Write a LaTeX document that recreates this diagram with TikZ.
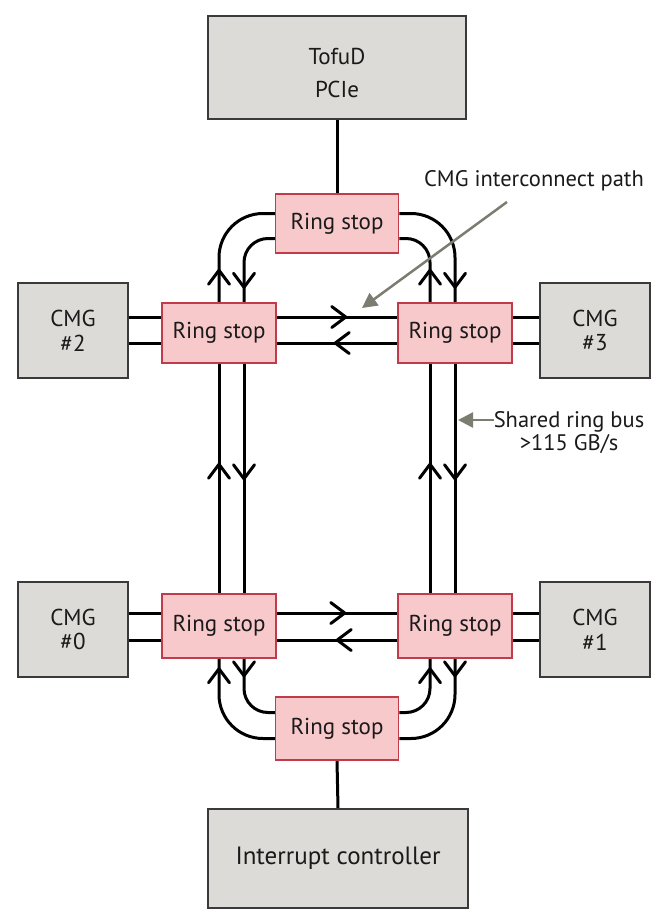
\documentclass[tikz,border=0pt]{standalone}
\usepackage{fontspec}
\setmainfont{PT Sans}
\usetikzlibrary{arrows.meta,calc,backgrounds}
\definecolor{boxgray}{HTML}{DCDBD7}
\definecolor{boxedge}{HTML}{3A3A3A}
\definecolor{rsfill}{HTML}{F8C9CB}
\definecolor{rsedge}{HTML}{C23B4A}
\definecolor{anngray}{HTML}{7B7D70}
\definecolor{txt}{HTML}{1A1A1A}
\begin{document}
\begin{tikzpicture}[x=1pt,y=-1pt,
  graybox/.style={draw=boxedge,line width=2pt,fill=boxgray,align=center,text=txt,
    font=\fontsize{23}{32}\selectfont,inner sep=0pt},
  ringstop/.style={draw=rsedge,line width=1.5pt,fill=rsfill,text=txt,
    font=\fontsize{23}{26}\selectfont,inner sep=0pt,minimum width=114pt,minimum height=60pt},
  bus/.style={line width=3pt,black},
  chev/.style={line width=3pt,black,line cap=round,line join=round},
  chevron/.pic={\draw[chev] (-14pt,-10.5pt) -- (0pt,0pt) -- (-14pt,10.5pt);},
  anntext/.style={text=txt,font=\fontsize{22.5}{23}\selectfont,inner sep=0pt,align=center},
  annarrow/.style={draw=anngray,line width=2.5pt,-{Triangle[length=15pt,width=15pt]},anngray}
]
\useasboundingbox (0,0) rectangle (672,921);

% boxes
\node[graybox,minimum width=258pt,minimum height=103pt,
  label={[name=tofutext,align=center,text=txt,inner sep=0pt,font=\fontsize{23}{33}\selectfont,yshift=-5pt]center:TofuD\\PCIe}] (tofu) at (337,67.5) {};
\node[graybox,minimum width=260pt,minimum height=99pt,font=\fontsize{25}{30}\selectfont] (intr) at (338,858.5) {Interrupt controller};
\node[graybox,minimum width=110pt,minimum height=95pt] (cmg2) at (73,330.5) {\raisebox{-3pt}{\shortstack{CMG\\[5pt]\#2}}};
\node[graybox,minimum width=110pt,minimum height=95pt] (cmg3) at (595,330.5) {\raisebox{-3pt}{\shortstack{CMG\\[5pt]\#3}}};
\node[graybox,minimum width=110pt,minimum height=95pt] (cmg0) at (73,629.5) {\raisebox{-3pt}{\shortstack{CMG\\[5pt]\#0}}};
\node[graybox,minimum width=110pt,minimum height=95pt] (cmg1) at (595,629.5) {\raisebox{-3pt}{\shortstack{CMG\\[5pt]\#1}}};

% ring stops
\node[ringstop,minimum width=123pt,minimum height=59pt] (rsT) at (337,223.5) {Ring stop};
\node[ringstop] (rs2) at (219,333) {Ring stop};
\node[ringstop] (rs3) at (455,333) {Ring stop};
\node[ringstop,minimum height=64pt] (rs0) at (219,626) {Ring stop};
\node[ringstop,minimum height=64pt] (rs1) at (455,626) {Ring stop};
\node[ringstop,minimum width=123pt,minimum height=63pt] (rsB) at (337,728.5) {Ring stop};

\begin{scope}[on background layer]
% external links
\draw[bus] (tofu.south) -- (rsT.north);
\draw[bus] (rsB.south) -- (intr.north);

% top arcs
\draw[bus,rounded corners=44pt] (rs2.north) |- ($(rsT.west)+(0,-10)$);
\draw[bus,rounded corners=24pt] ($(rsT.west)+(0,15)$) -| ($(rs2.north)+(25,0)$);
\draw[bus,rounded corners=44pt] ($(rsT.east)+(0,-10)$) -| (rs3.north);
\draw[bus,rounded corners=24pt] ($(rs3.north)+(-25,0)$) |- ($(rsT.east)+(0,15)$);

% bottom arcs
\draw[bus,rounded corners=44pt] ($(rsB.west)+(0,10)$) -| (rs0.south);
\draw[bus,rounded corners=24pt] ($(rs0.south)+(25,0)$) |- ($(rsB.west)+(0,-16)$);
\draw[bus,rounded corners=24pt] ($(rsB.east)+(0,-16)$) -| ($(rs1.south)+(-25,0)$);
\draw[bus,rounded corners=44pt] (rs1.south) |- ($(rsB.east)+(0,10)$);

% long verticals
\draw[bus] (rs0.north) -- (rs2.south);
\draw[bus] ($(rs2.south)+(25,0)$) -- ($(rs0.north)+(25,0)$);
\draw[bus] ($(rs1.north)+(-25,0)$) -- ($(rs3.south)+(-25,0)$);
\draw[bus] (rs3.south) -- (rs1.north);

% horizontals (CMG interconnect)
\draw[bus] ($(rs2.east)+(0,-16)$) -- ($(rs3.west)+(0,-16)$);
\draw[bus] ($(rs3.west)+(0,10)$) -- ($(rs2.east)+(0,10)$);
\draw[bus] ($(rs0.east)+(0,-13)$) -- ($(rs1.west)+(0,-13)$);
\draw[bus] ($(rs1.west)+(0,14)$) -- ($(rs0.east)+(0,14)$);

% CMG links
\coordinate (l2a) at ($(rs2.west)+(0,-16)$);
\coordinate (l2b) at ($(rs2.west)+(0,10)$);
\coordinate (l3a) at ($(rs3.east)+(0,-16)$);
\coordinate (l3b) at ($(rs3.east)+(0,10)$);
\coordinate (l0a) at ($(rs0.west)+(0,-13)$);
\coordinate (l0b) at ($(rs0.west)+(0,14)$);
\coordinate (l1a) at ($(rs1.east)+(0,-13)$);
\coordinate (l1b) at ($(rs1.east)+(0,14)$);
\draw[bus] (l2a -| cmg2.east) -- (l2a);
\draw[bus] (l2b -| cmg2.east) -- (l2b);
\draw[bus] (l3a) -- (l3a -| cmg3.west);
\draw[bus] (l3b) -- (l3b -| cmg3.west);
\draw[bus] (l0a -| cmg0.east) -- (l0a);
\draw[bus] (l0b -| cmg0.east) -- (l0b);
\draw[bus] (l1a) -- (l1a -| cmg1.west);
\draw[bus] (l1b) -- (l1b -| cmg1.west);
\end{scope}

% direction chevrons
\pic[rotate=90]  at ($(rs2.north)+(0,-32)$)   {chevron};
\pic[rotate=-90] at ($(rs2.north)+(25,-15)$)  {chevron};
\pic[rotate=-90] at ($(rs3.north)+(0,-15)$)   {chevron};
\pic[rotate=90]  at ($(rs3.north)+(-25,-32)$) {chevron};
\pic[rotate=90]  at ($(rs0.south)+(0,10)$)    {chevron};
\pic[rotate=-90] at ($(rs0.south)+(25,17)$)   {chevron};
\pic[rotate=90]  at ($(rs1.south)+(-25,10)$)  {chevron};
\pic[rotate=-90] at ($(rs1.south)+(0,17)$)    {chevron};
\pic[rotate=90]  at ($(rs0.north)+(0,-129)$)  {chevron};
\pic[rotate=-90] at ($(rs2.south)+(25,115)$)  {chevron};
\pic[rotate=90]  at ($(rs1.north)+(-25,-129)$) {chevron};
\pic[rotate=-90] at ($(rs3.south)+(0,115)$)   {chevron};
\pic[rotate=0]   at ($(rs2.east)+(69,-16)$)   {chevron};
\pic[rotate=180] at ($(rs3.west)+(-62,10)$)   {chevron};
\pic[rotate=0]   at ($(rs0.east)+(68,-13)$)   {chevron};
\pic[rotate=180] at ($(rs1.west)+(-60,14)$)   {chevron};

% annotations
\node[anntext] (ann1) at (534,181) {CMG interconnect path};
\coordinate (a1s) at (507,202);
\coordinate (a1e) at (362,308);
\draw[annarrow] (a1s) -- (a1e);

\node[anntext] (ann2) at (569,433) {Shared ring bus\\>115 GB/s};
\coordinate (a2e) at (458,420);
\draw[annarrow] (a2e -| ann2.west) -- (a2e);
\end{tikzpicture}
\end{document}
